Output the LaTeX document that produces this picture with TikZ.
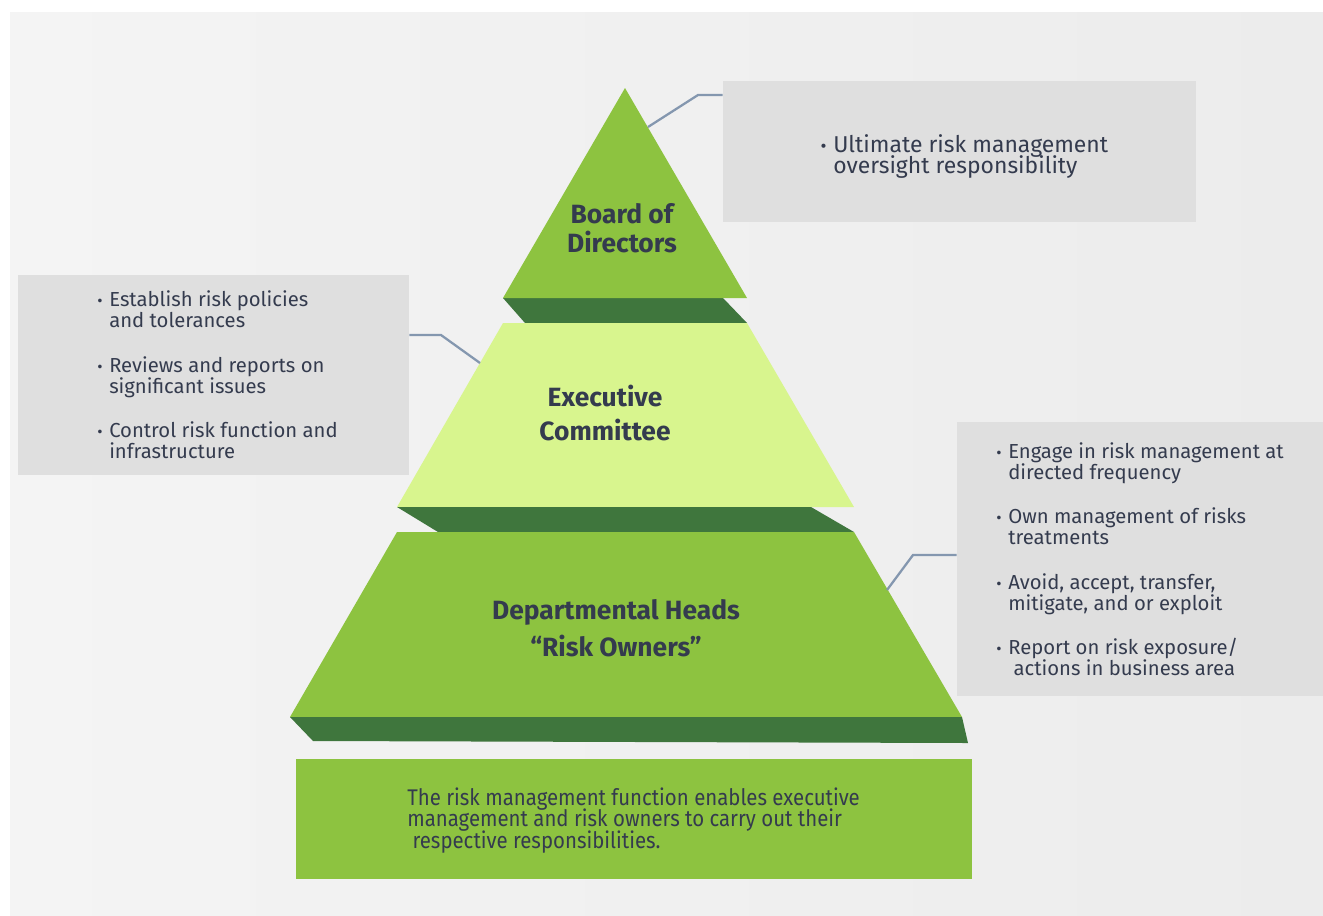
\documentclass[tikz,border=0pt]{standalone}
\usepackage{fontspec}
\setmainfont{Fira Sans}
\newfontfamily\narrowfont[FakeStretch=0.9]{Fira Sans}
\usetikzlibrary{fit}

\definecolor{leaf}{RGB}{141,195,64}
\definecolor{moss}{RGB}{63,118,61}
\definecolor{lime}{RGB}{216,245,142}
\definecolor{paper}{RGB}{223,223,223}
\definecolor{wire}{RGB}{132,151,175}
\definecolor{ink}{RGB}{52,59,78}

% tight leading in the bullet lists
\setlength{\lineskiplimit}{-100pt}

\begin{document}
\begin{tikzpicture}[x=0.75pt, y=-0.75pt,
        tier/.style={font=\fontsize{19.8}{#1}\selectfont\bfseries, text=ink,
            align=center, anchor=base, inner sep=0},
        item/.style={font=\fontsize{15.2}{15.75}\selectfont,
            text=ink, align=left, anchor=base west, inner sep=0},
        infobox/.style={fill=paper, inner sep=0},
        link/.style={draw=wire, line width=1.7pt}]
    \useasboundingbox (0,0) rectangle (1323,915);
    \fill[white] (0,0) rectangle (1323,915);
    \shade[left color={rgb,255:red,244;green,244;blue,244},
           right color={rgb,255:red,236;green,236;blue,236}]
        (10,12) rectangle (1323,915);

    % pyramid, top to bottom
    \fill[moss] (503,298) -- (723,298) -- (747,323) -- (525,323) -- cycle;
    \fill[leaf] (625,88) -- (747,298) -- (503,298) -- cycle;
    \fill[lime] (503,323) -- (747,323) -- (854,507) -- (397,507) -- cycle;
    \fill[moss] (397,507) -- (811,507) -- (854,532) -- (438,532) -- cycle;
    \fill[leaf] (397,532) -- (854,532) -- (962,717) -- (290,717) -- cycle;
    \fill[moss] (290,717) -- (962,717) -- (968,743) -- (313,741) -- cycle;

    % labels sit on the baseline of their last line
    \node[tier=21.75pt] (board) at (622,252) {Board of\\Directors};
    \node[tier=25.5pt] (exec) at (605,440) {Executive\\Committee};
    \node[tier=27.75pt] (dept) at (616,656) {Departmental Heads\\``Risk Owners''};

    % side boxes
    \node[infobox, fit={(723,81) (1196,222)}] (topbox) {};
    \node[infobox, fit={(18,275) (409,475)}] (leftbox) {};
    \node[infobox, fit={(957,422) (1323,696)}] (rightbox) {};
    \node[fill=leaf, inner sep=0, fit={(296,759) (972,879)}] (footbox) {};

    \node[item, font=\fontsize{17.2}{15.75}\selectfont] (u1) at (833,173)
        {\llap{\scalebox{0.8}{•}\hspace{5pt}}Ultimate risk management\\oversight responsibility};

    \node[item] (e1) at (109,327)
        {\llap{\scalebox{0.8}{•}\hspace{5pt}}Establish risk policies\\and tolerances};
    \node[item] (e2) at (109,393)
        {\llap{\scalebox{0.8}{•}\hspace{5pt}}Reviews and reports on\\significant issues};
    \node[item] (e3) at (109,458)
        {\llap{\scalebox{0.8}{•}\hspace{5pt}}Control risk function and\\infrastructure};

    \node[item] (d1) at (1008,479)
        {\llap{\scalebox{0.8}{•}\hspace{5pt}}Engage in risk management at\\directed frequency};
    \node[item] (d2) at (1008,544)
        {\llap{\scalebox{0.8}{•}\hspace{5pt}}Own management of risks\\treatments};
    \node[item] (d3) at (1008,610)
        {\llap{\scalebox{0.8}{•}\hspace{5pt}}Avoid, accept, transfer,\\mitigate, and or exploit};
    \node[item] (d4) at (1008,675)
        {\llap{\scalebox{0.8}{•}\hspace{5pt}}Report on risk exposure/\\\hspace{4pt}actions in business area};

    \node[item, font=\narrowfont\fontsize{17}{16.1}\selectfont] (note) at (407,848)
        {The risk management function enables executive\\management and risk owners to carry out their\\\hspace{4pt}respective responsibilities.};

    % leader lines
    \coordinate (p1) at (648,127);
    \coordinate (k1) at (698,95);
    \draw[link] (p1) -- (k1) -- (k1 -| topbox.west);
    \coordinate (p2) at (480,363);
    \coordinate (k2) at (441,335);
    \draw[link] (p2) -- (k2) -- (k2 -| leftbox.east);
    \coordinate (p3) at (887,590);
    \coordinate (k3) at (913,555);
    \draw[link] (p3) -- (k3) -- (k3 -| rightbox.west);
\end{tikzpicture}
\end{document}
